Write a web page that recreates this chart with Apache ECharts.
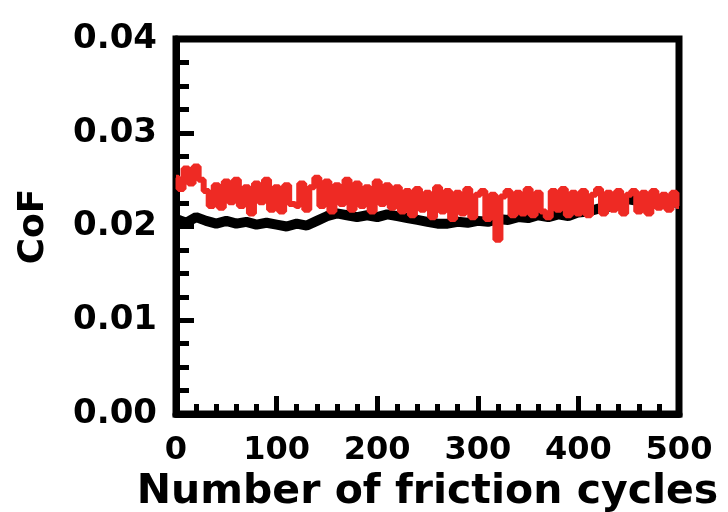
<!DOCTYPE html>
<html>
<head>
<meta charset="utf-8">
<script src="https://cdn.jsdelivr.net/npm/echarts@6/dist/echarts.min.js"></script>
<style>
html, body { margin: 0; padding: 0; background: #fff; }
#chart { width: 728px; height: 512px; }
</style>
</head>
<body>
<div id="chart"></div>
<script>
// CoF vs friction cycles
var blackCycles = [0, 10, 20, 30, 40, 50, 60, 70, 80, 90, 100, 110, 120, 130, 140, 150, 160, 170, 180, 190, 200,
    210, 220, 230, 240, 250, 260, 270, 280, 290, 300, 310, 320, 330, 340, 350, 360, 370, 380, 390, 400,
    410, 420, 430, 440, 450, 460, 470, 480, 490, 500];
var blackCoF = [0.0208, 0.0204, 0.0210, 0.0206, 0.0203, 0.0206, 0.0203, 0.0205, 0.0202, 0.0204, 0.0202,
    0.0200, 0.0203, 0.0201, 0.0206, 0.0211, 0.0214, 0.0212, 0.0210, 0.0212, 0.0210,
    0.0213, 0.0211, 0.0209, 0.0207, 0.0205, 0.0203, 0.0203, 0.0205, 0.0204, 0.0206,
    0.0205, 0.0208, 0.0207, 0.0210, 0.0209, 0.0212, 0.0210, 0.0213, 0.0211, 0.0215,
    0.0216, 0.0219, 0.0221, 0.0226, 0.0229, 0.0227, 0.0226, 0.0225, 0.0226, 0.0225];

var redCycles = [];
for (var c = 0; c <= 500; c += 5) redCycles.push(c);
var redCoF = [
    0.0252, 0.0240, 0.0262, 0.0246, 0.0264, 0.0250, 0.0238,
    0.0222, 0.0244, 0.0220, 0.0248, 0.0226, 0.0250, 0.0222, 0.0242,
    0.0214, 0.0246, 0.0226, 0.0250, 0.0218, 0.0242, 0.0216, 0.0244, 0.0224, 0.0222, 0.0246, 0.0218,
    0.0242, 0.0252, 0.0222, 0.0248, 0.0216, 0.0244, 0.0224, 0.0250, 0.0218, 0.0246, 0.0222, 0.0242, 0.0216, 0.0248, 0.0224, 0.0244, 0.0220,
    0.0242, 0.0216, 0.0238, 0.0212, 0.0240, 0.0218, 0.0236, 0.0210, 0.0242, 0.0216,
    0.0238, 0.0208, 0.0236, 0.0214, 0.0240, 0.0210, 0.0234, 0.0238, 0.0208, 0.0234,
    0.0186, 0.0232,
    0.0238, 0.0212, 0.0236, 0.0214, 0.0240, 0.0212, 0.0236, 0.0216, 0.0210, 0.0238, 0.0218, 0.0240, 0.0212, 0.0236, 0.0214,
    0.0238, 0.0212, 0.0234, 0.0240, 0.0214, 0.0236, 0.0218, 0.0238, 0.0214, 0.0234, 0.0238, 0.0216, 0.0236, 0.0214, 0.0238, 0.0220, 0.0234, 0.0218, 0.0236, 0.0222
];

var fontName = 'DejaVu Sans';

function pairs(xs, ys) {
    var out = [];
    for (var i = 0; i < xs.length; i++) out.push([xs[i], ys[i]]);
    return out;
}

var myChart = echarts.init(document.getElementById('chart'));
var option = {
    animation: false,
    backgroundColor: '#fff',
    grid: {
        left: 176, right: 49, top: 39, bottom: 98,
        outerBoundsMode: 'none',
        containLabel: false,
        show: true, borderColor: '#000', borderWidth: 7, backgroundColor: 'transparent'
    },
    xAxis: {
        type: 'value',
        min: 0, max: 500, interval: 100,
        name: 'Number of friction cycles',
        nameLocation: 'middle',
        nameGap: 57,
        nameTextStyle: { fontFamily: fontName, fontWeight: 'bold', fontSize: 41, color: '#000' },
        axisLine: { show: true, lineStyle: { color: '#000', width: 7 } },
        axisTick: { show: true, inside: true, length: 18, lineStyle: { color: '#000', width: 5 } },
        minorTick: { show: true, splitNumber: 5, length: 10, lineStyle: { color: '#000', width: 5 } },
        axisLabel: { fontFamily: fontName, fontWeight: 'bold', fontSize: 32, color: '#000', margin: 21 },
        splitLine: { show: false }
    },
    yAxis: {
        type: 'value',
        min: 0, max: 0.04, interval: 0.01,
        name: 'CoF',
        nameLocation: 'middle',
        nameGap: 124,
        nameTextStyle: { fontFamily: fontName, fontWeight: 'bold', fontSize: 36, color: '#000' },
        axisLine: { show: true, lineStyle: { color: '#000', width: 7 } },
        axisTick: { show: true, inside: true, length: 18, lineStyle: { color: '#000', width: 5 } },
        minorTick: { show: true, splitNumber: 4, length: 13, lineStyle: { color: '#000', width: 5 } },
        axisLabel: {
            fontFamily: fontName, fontWeight: 'bold', fontSize: 34, color: '#000', margin: 19,
            formatter: function (v) { return v.toFixed(2); }
        },
        splitLine: { show: false }
    },
    series: [
        {
            name: 'black',
            type: 'line',
            symbol: 'none',
            lineStyle: { color: '#000', width: 10 },
            data: pairs(blackCycles, blackCoF),
            z: 2
        },
        {
            name: 'red',
            type: 'line',
            symbol: 'none',
            step: 'middle',
            lineStyle: { color: '#ee2a24', width: 6 },
            data: pairs(redCycles, redCoF),
            z: 3
        }
    ]
};
myChart.setOption(option);
</script>
</body>
</html>
